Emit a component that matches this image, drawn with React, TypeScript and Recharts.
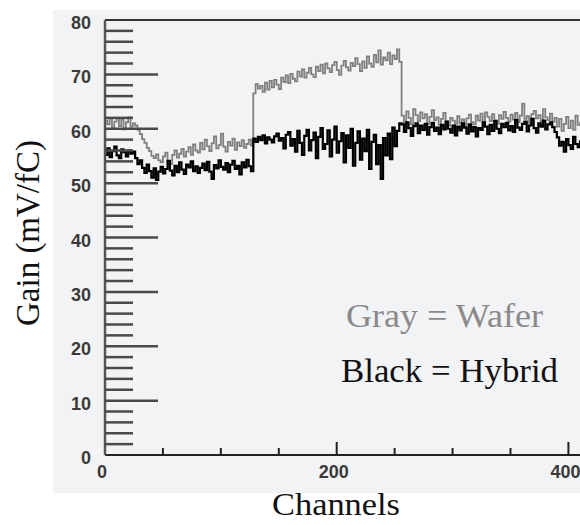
import { LineChart, Line, XAxis, YAxis, ReferenceLine } from "recharts";

// gain per channel, sampled every 2 channels (0..410)
const wafer = [
  // 0-24
  61.5, 60.8, 61.9, 60.2, 61.3, 62.0, 60.5, 61.7, 59.9, 61.2, 62.1, 60.4, 61.0,
  // 26-46
  60.6, 59.8, 59.0, 58.1, 57.4, 56.5, 55.9, 55.0, 54.6, 55.3, 54.2,
  // 48-70
  53.8, 54.9, 55.6, 54.1, 53.5, 55.2, 56.0, 54.7, 55.4, 56.3, 54.9, 55.8,
  // 72-126
  56.6, 55.2, 57.1, 56.0, 55.6, 57.4, 56.2, 58.0, 56.8, 55.9, 57.3, 58.6, 56.4, 57.0,
  59.1, 56.7, 55.8, 57.6, 56.9, 58.2, 56.1, 57.5, 56.8, 57.9, 56.5, 57.2, 58.0, 56.9,
  // 128-254
  66.5, 68.2, 67.4, 67.9, 66.8, 68.5, 67.2, 68.8, 67.6, 69.0,
  68.1, 67.3, 69.4, 68.6, 69.8, 68.4, 70.1, 69.2, 68.7, 70.5,
  69.6, 70.9, 69.4, 70.3, 71.2, 70.0, 69.5, 71.4, 70.6, 71.8,
  70.2, 72.0, 71.1, 70.4, 71.7, 72.3, 70.8, 69.9, 71.6, 72.5,
  71.3, 70.7, 72.1, 71.5, 73.0, 71.9, 70.6, 72.4, 71.2, 73.3,
  72.0, 71.4, 73.6, 72.2, 74.4, 71.8, 73.1, 72.6, 74.0, 71.9,
  73.5, 72.8, 74.6, 72.3,
  // 256-388
  62.4, 61.1, 63.2, 62.0, 60.8, 63.6, 62.5, 61.4, 63.0, 61.9,
  62.7, 60.9, 62.2, 63.4, 61.6, 62.1, 60.7, 61.8, 62.9, 61.3,
  60.6, 62.0, 61.5, 60.9, 62.3, 61.0, 61.7, 60.5, 61.9, 62.6,
  61.2, 60.8, 62.4, 61.5, 62.8, 61.1, 63.0, 62.2, 61.4, 62.7,
  61.6, 60.9, 62.5, 61.8, 63.1, 62.0, 61.3, 62.6, 61.7, 62.9,
  61.2, 62.4, 64.6, 61.8, 62.3, 61.0, 62.7, 63.3, 61.9, 62.5,
  61.4, 63.6, 62.1, 61.6, 62.8, 61.3, 62.0,
  // 390-410
  60.4, 61.8, 59.6, 60.9, 62.2, 60.1, 61.5, 59.8, 62.4, 60.7, 61.3,
];

const hybrid = [
  // 0-24
  55.2, 56.4, 54.8, 55.9, 56.7, 55.1, 54.6, 56.2, 55.7, 54.9, 56.0, 55.4, 55.8,
  // 26-46
  54.6, 53.5, 54.2, 52.8, 51.9, 53.4, 52.2, 51.0, 52.7, 50.6, 52.1,
  // 48-126
  53.0, 51.8, 52.6, 54.1, 52.3, 51.4, 53.2, 52.0, 53.8, 52.5,
  51.7, 53.4, 52.9, 54.0, 52.2, 53.1, 51.9, 52.8, 53.6, 52.4,
  53.9, 52.1, 50.8, 53.3, 52.7, 54.2, 53.0, 52.5, 53.7, 52.0,
  53.4, 54.1, 52.6, 53.2, 51.6, 53.8, 52.9, 54.3, 53.1, 52.2,
  // 128-254
  58.2, 57.6, 58.5, 57.9, 58.8, 57.3, 58.4, 58.0, 57.5, 58.6,
  59.1, 57.8, 58.3, 56.4, 58.9, 59.4, 56.9, 58.1, 55.8, 59.6,
  57.4, 55.2, 58.7, 59.8, 56.0, 57.9, 59.3, 54.6, 58.5, 60.1,
  56.3, 57.2, 59.7, 54.9, 58.0, 60.4, 55.6, 57.7, 59.2, 53.8,
  58.8, 56.5, 60.0, 53.2, 57.4, 59.5, 54.3, 58.2, 55.9, 59.8,
  52.6, 57.6, 58.9, 53.5, 57.0, 50.8, 58.3, 55.1, 59.1, 54.4,
  60.2, 56.8, 59.6, 61.0,
  // 256-388
  60.8, 59.4, 61.2, 60.1, 58.7, 60.5, 61.0, 59.2, 60.6, 59.8,
  60.9, 58.9, 60.3, 61.1, 59.6, 60.2, 59.0, 60.7, 59.9, 61.3,
  60.0, 59.3, 60.6, 58.8, 60.4, 59.7, 61.0, 60.2, 59.1, 60.8,
  59.5, 60.3, 58.6, 60.1, 59.8, 61.2, 60.4, 59.0, 60.7, 59.6,
  61.4, 60.0, 59.2, 60.9, 60.3, 61.1, 59.7, 60.5, 59.4, 61.6,
  60.2, 59.8, 60.9, 61.3, 59.5, 60.6, 61.8, 60.1, 59.3, 61.0,
  60.4, 61.5, 59.9, 60.8, 61.2, 60.3, 59.4,
  // 390-410
  58.4, 56.9, 57.6, 55.8, 58.1, 57.0, 56.3, 58.5, 57.2, 56.6, 57.9,
];

const channelStep = 2;
const xTicks = [0, 50, 100, 150, 200, 250, 300, 350, 400];
const yTicks = Array.from({ length: 41 }, (_, i) => i * 2);

const data = wafer.map((w, i) => ({
  ch: i * channelStep,
  wafer: w,
  hybrid: hybrid[i],
}));

const labelFont = {
  fontFamily: "'Liberation Sans', Arial, sans-serif",
  fontWeight: 700,
  fontSize: 18,
  fill: "#3a3a3a",
};

const YTick = (props: any) => {
  const { x, y, payload } = props;
  const v = payload.value;
  const major = v % 10 === 0;
  return (
    <g>
      {v > 0 && v < 80 && (
        <line x1={x} x2={x + (major ? 53 : 28)} y1={y} y2={y} stroke="#4a4a4a" strokeWidth={2.5} />
      )}
      {major && (
        <text x={x - 14} y={y + 3} textAnchor="end" dominantBaseline="central" {...labelFont}>
          {v}
        </text>
      )}
    </g>
  );
};

const XTick = (props: any) => {
  const { x, y, payload } = props;
  const v = payload.value;
  const major = v % 200 === 0;
  return (
    <g>
      {v > 0 && (
        <line x1={x} x2={x} y1={y} y2={y - (major ? 13 : 7)} stroke="#222" strokeWidth={2} />
      )}
      {major && (
        <text x={x - 3} y={y + 17} textAnchor="middle" dominantBaseline="central" {...labelFont}>
          {v}
        </text>
      )}
    </g>
  );
};

const serif = "'Liberation Serif', 'Times New Roman', serif";

export default function App() {
  return (
    <div style={{ position: "absolute", left: 0, top: 0, width: 580, height: 525, background: "#fff", overflow: "hidden" }}>
      <div style={{ position: "absolute", left: 53, top: 10, width: 527, height: 483, background: "#f2f3f5" }} />
      <div style={{ position: "absolute", left: 0, top: 0 }}>
        <LineChart width={580} height={525} data={data} margin={{ top: 20, right: 0, bottom: 0, left: 0 }}>
          <XAxis
            dataKey="ch"
            type="number"
            domain={[0, 410]}
            ticks={xTicks}
            interval={0}
            height={70}
            tickSize={0}
            tickMargin={0}
            tickLine={false}
            tick={XTick}
            axisLine={{ stroke: "#222", strokeWidth: 2 }}
          />
          <YAxis
            type="number"
            domain={[0, 80]}
            ticks={yTicks}
            interval={0}
            width={105}
            tickSize={0}
            tickMargin={0}
            tickLine={false}
            tick={YTick}
            axisLine={{ stroke: "#555", strokeWidth: 2.5 }}
          />
          <ReferenceLine y={80} stroke="#333" strokeWidth={2} />
          <Line
            dataKey="wafer"
            type="stepAfter"
            stroke="#808080"
            strokeWidth={1.8}
            dot={false}
            isAnimationActive={false}
          />
          <Line
            dataKey="hybrid"
            type="stepAfter"
            stroke="#000"
            strokeWidth={2.2}
            dot={false}
            isAnimationActive={false}
          />
        </LineChart>
      </div>
      <svg width={580} height={525} style={{ position: "absolute", left: 0, top: 0, pointerEvents: "none" }}>
        <text x={346} y={327} textLength={197} lengthAdjust="spacingAndGlyphs" fontFamily={serif} fontSize={33} fill="#8a8a8a">
          Gray = Wafer
        </text>
        <text x={341} y={382} textLength={217} lengthAdjust="spacingAndGlyphs" fontFamily={serif} fontSize={33} fill="#111">
          Black = Hybrid
        </text>
        <text x={272} y={515} textLength={128} lengthAdjust="spacingAndGlyphs" fontFamily={serif} fontSize={32} fill="#111">
          Channels
        </text>
        <text
          x={39}
          y={233}
          textAnchor="middle"
          fontFamily={serif}
          fontSize={33}
          fill="#111"
          transform="rotate(-90 39 233)"
        >
          Gain (mV/fC)
        </text>
      </svg>
    </div>
  );
}
